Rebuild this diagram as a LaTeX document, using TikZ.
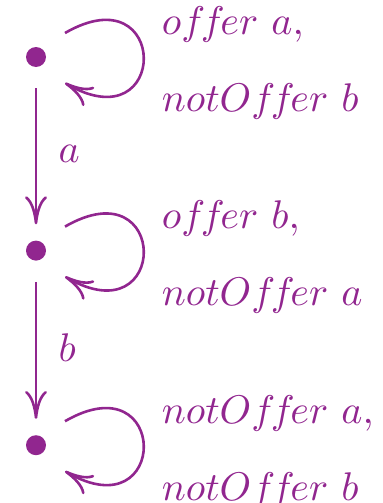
\documentclass[tikz,border=0pt]{standalone}
\usepackage{amsmath,amssymb}
\usepackage{xcolor}
\usetikzlibrary{positioning,arrows.meta}
\definecolor{lts}{RGB}{145,38,143}
\newcommand{\wff}{f\mkern-1.94mu f\mkern-1.94mu}

\begin{document}
\begin{tikzpicture}[>={To[length=7pt,width=5.5pt]},line width=0.65pt,color=lts,every node/.style={font=\normalsize}]
\tikzstyle{st}=[circle,fill=lts,inner sep=0pt,minimum size=5pt]
\tikzstyle{lbl}=[align=left,text=lts]
\useasboundingbox (0,0) rectangle (95.75pt,-125.75pt);
\node[st] (s1) at (9pt,-14.25pt) {};
\node[st,below=42.75pt of s1] (s2) {};
\node[st,below=43pt of s2] (s3) {};
\node[lbl,right=25pt of s1,yshift=-1.6pt] (l1) {$o\wff er\ a,$\\[7.25pt]$notO\wff er\ b$};
\node[lbl,right=25pt of s2,yshift=-1.6pt] (l2) {$o\wff er\ b,$\\[7.25pt]$notO\wff er\ a$};
\node[lbl,right=25pt of s3,yshift=-1.6pt] (l3) {$notO\wff er\ a,$\\[7.25pt]$notO\wff er\ b$};
% self loops
\draw[->] ([shift={(7.25pt,6pt)}]s1.center) to[out=30,in=-30,looseness=6.2] ([shift={(7.25pt,-6.5pt)}]s1.center);
\draw[->] ([shift={(7.25pt,6pt)}]s2.center) to[out=30,in=-30,looseness=6.2] ([shift={(7.25pt,-6.5pt)}]s2.center);
\draw[->] ([shift={(7.25pt,6pt)}]s3.center) to[out=30,in=-30,looseness=6.2] ([shift={(7.25pt,-6.5pt)}]s3.center);
% transitions
\draw[->,shorten <=5pt,shorten >=3.75pt] (s1) -- node[right=2pt]{$a$} (s2);
\draw[->,shorten <=5pt,shorten >=3.75pt] (s2) -- node[right=2pt]{$b$} (s3);
\end{tikzpicture}
\end{document}
